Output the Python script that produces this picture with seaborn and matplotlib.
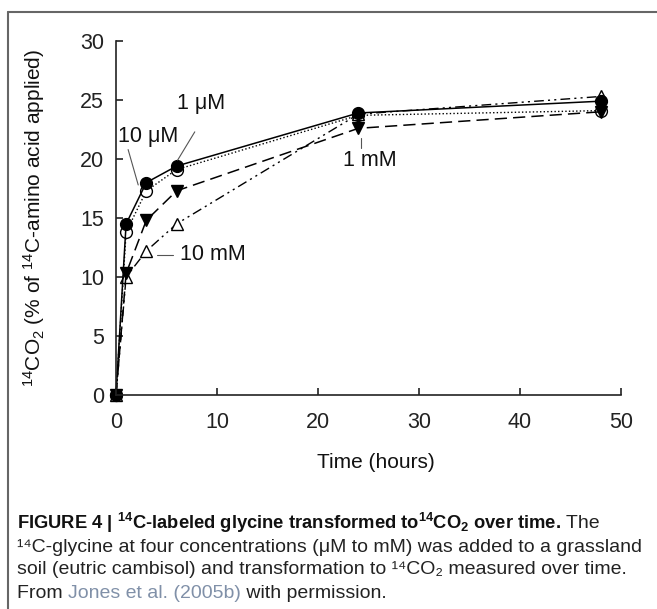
import matplotlib
matplotlib.use("Agg")
import matplotlib.pyplot as plt
import seaborn as sns
import pandas as pd
from matplotlib.lines import Line2D
from matplotlib import font_manager

sns.set_theme(style="white")
names = {f.name for f in font_manager.fontManager.ttflist}
narrow = "Liberation Sans Narrow" if "Liberation Sans Narrow" in names else "Liberation Sans"
plt.rcParams['font.family'] = ['Liberation Sans', 'DejaVu Sans']
plt.rcParams['mathtext.default'] = 'regular'

# ---- data ----
time_h = [0, 1, 3, 6, 24, 48]
uM1 = [0, 14.5, 18.0, 19.4, 23.9, 24.9]
uM10 = [0, 13.8, 17.3, 19.1, 23.7, 24.1]
mM1 = [0, 10.3, 14.8, 17.3, 22.6, 24.0]
mM10 = [0, 10.0, 12.2, 14.5, 23.8, 25.3]
xticks = [0, 10, 20, 30, 40, 50]
yticks = [0, 5, 10, 15, 20, 25, 30]

W, H = 657, 609
fig = plt.figure(figsize=(W/100, H/100), dpi=100)
ax = fig.add_axes([116/W, 1-395/H, (621-116)/W, (395-41)/H])

series = [
    (uM10, 'o', 'white', None, ':', 1.0),
    (mM10, '^', 'white', (7, 3, 1.5, 3, 1.5, 3), '-', 1.0),
    (mM1, 'v', 'black', (8, 4), '-', 1.1),
    (uM1, 'o', 'black', None, '-', 1.1),
]
for vals, mk, fc, dash, ls, lw in series:
    df = pd.DataFrame({"t": time_h, "v": vals})
    kws = dict(color='black', marker=mk, markerfacecolor=fc, markeredgecolor='black',
               markeredgewidth=1.0, markersize=8.5, linewidth=lw, clip_on=False)
    if ls == ':':
        kws['linestyle'] = (0, (1, 1.6))
    elif dash is not None:
        kws['linestyle'] = (0, dash)
    else:
        kws['linestyle'] = '-'
    sns.lineplot(data=df, x="t", y="v", ax=ax, errorbar=None, sort=True, **kws)

ax.set_xlim(0, 50)
ax.set_ylim(0, 30)
ax.set_xticks(xticks)
ax.set_yticks(yticks)
for s in ['top', 'right']:
    ax.spines[s].set_visible(False)
for s in ['left', 'bottom']:
    ax.spines[s].set_color('#222222')
    ax.spines[s].set_linewidth(1.2)
ax.tick_params(axis='x', direction='in', length=5, width=1.2, pad=12, labelsize=15.5, colors='#222222', bottom=True)
ax.tick_params(axis='y', direction='in', length=5, width=1.2, pad=8.5, labelsize=15.5, colors='#222222', left=True)
ax.set_xlabel("Time (hours)", fontsize=15, color='#111111', va='center')
ax.set_ylabel(r"$^{14}$CO$_2$ (% of $^{14}$C-amino acid applied)", fontsize=15, color='#111111', va='center')
ax.yaxis.set_label_coords(-(116-34)/(621-116), 0.5)
ax.xaxis.set_label_coords((376-116)/(621-116), -(462-395)/(395-41))

# annotations
fs = 15.5
ax.text(6.0, 24.7, "1 μM", fontsize=fs, va='center', ha='left', color='#111111')
ax.plot([7.8, 6.1], [22.3, 19.9], color='#555555', lw=0.8)
ax.text(0.2, 21.9, "10 μM", fontsize=fs, va='center', ha='left', color='#111111')
ax.plot([1.2, 2.2], [20.8, 17.8], color='#555555', lw=0.8)
ax.text(6.3, 11.9, "10 mM", fontsize=fs, va='center', ha='left', color='#111111')
ax.plot([4.1, 5.6], [11.9, 11.9], color='#555555', lw=0.8)
ax.text(22.5, 19.9, "1 mM", fontsize=fs, va='center', ha='left', color='#111111')
ax.plot([24.3, 24.3], [21.8, 20.9], color='#555555', lw=0.8)

# frame
fig.add_artist(Line2D([8/W, 8/W], [0, 1-12/H], color='#666666', lw=1.5, transform=fig.transFigure))
fig.add_artist(Line2D([8/W, 1], [1-12/H, 1-12/H], color='#666666', lw=1.5, transform=fig.transFigure))

# caption
renderer = fig.canvas.get_renderer()
def seq(x_px, y_px, parts):
    x = x_px
    for txt, size, kw in parts:
        t = fig.text(x/W, 1-y_px/H, txt, fontsize=size, va='center', ha='left',
                     family=[narrow, 'DejaVu Sans'], **kw)
        bb = t.get_window_extent(renderer)
        x += bb.width

reg, bold = 14, 13.2
seq(17, 523, [(r"FIGURE 4 | $^{14}$C-labeled glycine transformed to$^{14}$CO$_2$ over time.", bold, dict(fontweight='bold', color='#111111')),
              (" The", reg, dict(color='#222222'))])
seq(17, 547, [("¹⁴C-glycine at four concentrations (μM to mM) was added to a grassland", reg, dict(color='#222222'))])
seq(17, 570, [("soil (eutric cambisol) and transformation to ¹⁴CO₂ measured over time.", reg, dict(color='#222222'))])
seq(17, 593, [("From ", reg, dict(color='#222222')), ("Jones et al. (2005b)", reg, dict(color='#8090a8')),
              (" with permission.", reg, dict(color='#222222'))])

fig.savefig("out.png", dpi=100)
